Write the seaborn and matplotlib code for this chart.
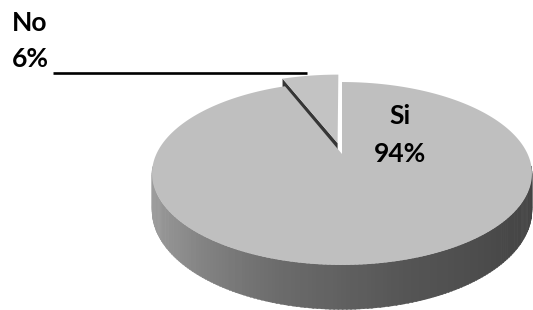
import numpy as np
import matplotlib
matplotlib.use("Agg")
import matplotlib.pyplot as plt
import seaborn as sns
from matplotlib.patches import Polygon

# ---- data ----
labels = ["No", "Si"]
values = [6, 94]
pct_labels = ["6%", "94%"]

sns.set_theme(style="white")
plt.rcParams['font.family'] = ['Lato', 'DejaVu Sans']

W, H = 533, 310
fig = plt.figure(figsize=(W / 100, H / 100), dpi=100)
ax = fig.add_axes([0, 0, 1, 1])

# pie geometry from matplotlib (hidden helper axes)
hax = fig.add_axes([0, 0, 0.01, 0.01])
wedges, _ = hax.pie(values, startangle=90, counterclock=True, explode=[0.13, 0.0])
hax.set_visible(False)

# perspective projection of the unit disc onto the canvas
cx, cy = 342, 154
R, C, k, depth = 185.6, 87.3, 0.213, 35.0


def proj(u, v, z=0.0):
    d = 1 + k * v
    return cx + R * u / d, cy - C * v / d + depth * z / d


def arc(w, t1, t2, n=120, z=0.0, rev=False):
    cxw, cyw = w.center
    ts = np.radians(np.linspace(t1, t2, n))
    if rev:
        ts = ts[::-1]
    return [proj(cxw + w.r * np.cos(t), cyw + w.r * np.sin(t), z) for t in ts]


w_no, w_si = wedges

# side of the big slice (front rim) with gradient shading
t_lo, t_hi = 188.0, 352.0
n_strips = 160
grad = sns.blend_palette(["#a4a4a4", "#8e8e8e", "#6c6c6c", "#555555", "#484848", "#424242"],
                         n_colors=n_strips)
edges = np.linspace(t_lo, t_hi, n_strips + 1)
for i in range(n_strips):
    top = arc(w_si, edges[i], edges[i + 1] + 0.3, n=4)
    bot = arc(w_si, edges[i], edges[i + 1] + 0.3, n=4, z=1.0, rev=True)
    ax.add_patch(Polygon(top + bot, closed=True, facecolor=grad[i], edgecolor=grad[i], lw=0.3))

# radial cut face of the exploded small slice
cxn, cyn = w_no.center
t2 = np.radians(w_no.theta2)
face = [proj(cxn, cyn), proj(cxn + np.cos(t2), cyn + np.sin(t2)),
        proj(cxn + np.cos(t2), cyn + np.sin(t2), 1.0), proj(cxn, cyn, 1.0)]
ax.add_patch(Polygon(face, closed=True, facecolor="#363636", edgecolor="none"))

# top faces
si_top = [proj(*w_si.center)] + arc(w_si, w_si.theta1, w_si.theta2, n=400)
ax.add_patch(Polygon(si_top, closed=True, facecolor="#bfbfbf", edgecolor="none"))
no_top = [proj(*w_no.center)] + arc(w_no, w_no.theta1, w_no.theta2, n=40)
ax.add_patch(Polygon(no_top, closed=True, facecolor="#c3c3c3", edgecolor="none"))

# labels
ax.text(400, 135, f"{labels[1]}\n{pct_labels[1]}", ha="center", va="center",
        fontsize=19, fontweight="bold", color="black", linespacing=1.65)
ax.text(12, 41, f"{labels[0]}\n{pct_labels[0]}", ha="left", va="center",
        fontsize=19, fontweight="bold", color="black", linespacing=1.6)
ax.plot([53, 307], [73, 73], color="black", lw=1.9, solid_capstyle="butt")

ax.set_xlim(0, W)
ax.set_ylim(H, 0)
ax.axis("off")
fig.savefig("out.png", dpi=100)
